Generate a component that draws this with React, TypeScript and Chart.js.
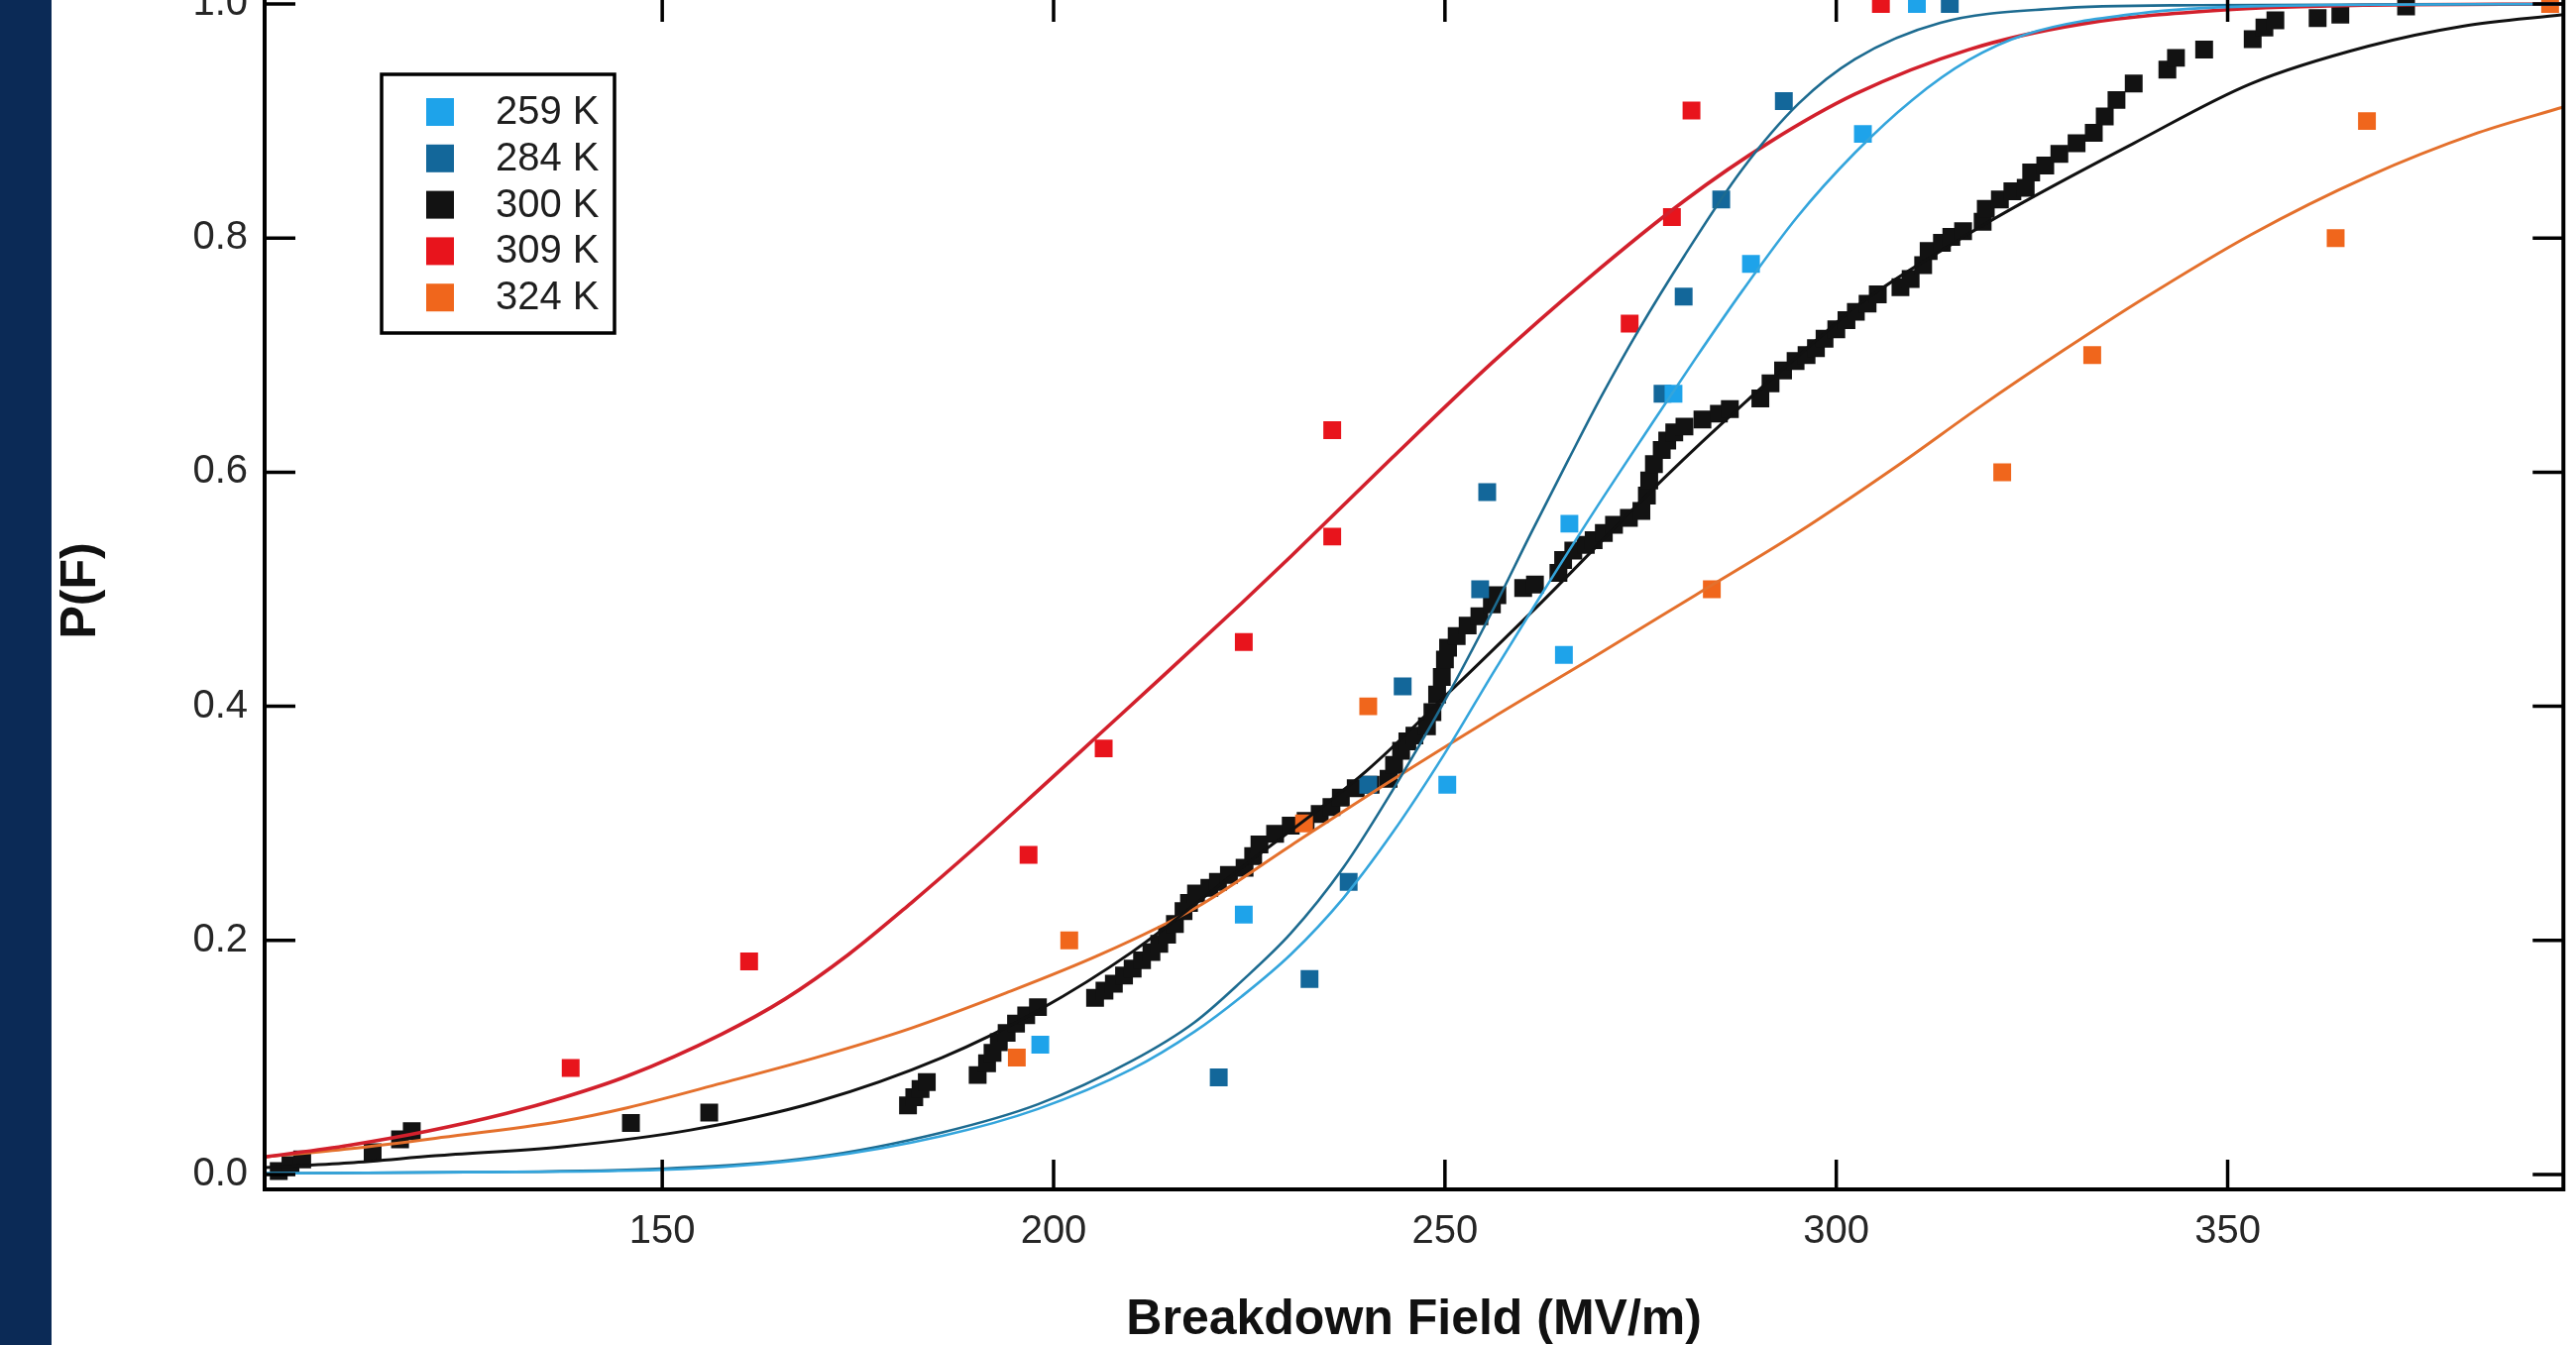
import React, { useEffect, useRef } from 'react';
import { Chart, registerables } from 'chart.js';

Chart.register(...registerables);

// ---------------- data ----------------
const seriesLabels = ['259 K', '284 K', '300 K', '309 K', '324 K'];
const markerColors = ['#1ea3ea', '#13679a', '#121212', '#e8141c', '#f0661c'];
const lineColors = ['#34a5dc', '#1d6b90', '#111111', '#d2202c', '#e4702c'];

const xTicks = [150, 200, 250, 300, 350];
const yTicks = [0, 0.2, 0.4, 0.6, 0.8, 1.0];

const points259: [number, number][] = [
  [198.3, 0.111], [224.3, 0.222], [250.3, 0.333], [265.2, 0.444], [265.9, 0.556],
  [279.2, 0.667], [289.1, 0.778], [303.4, 0.889], [310.3, 1.0],
];
const points284: [number, number][] = [
  [221.1, 0.083], [232.7, 0.167], [237.7, 0.25], [240.2, 0.333], [244.6, 0.417],
  [254.5, 0.5], [255.4, 0.583], [277.8, 0.667], [280.5, 0.75], [285.3, 0.833],
  [293.3, 0.917], [314.5, 1.0],
];
const points300: [number, number][] = [
  [101.0, 0.003], [102.5, 0.008], [104.0, 0.013], [113.0, 0.019], [116.5, 0.030], [118.0, 0.037],
  [146.0, 0.044], [156.0, 0.053],
  [181.4, 0.059], [182.2, 0.066], [183.0, 0.073], [183.8, 0.079],
  [190.3, 0.085], [191.5, 0.095], [192.2, 0.104], [193.0, 0.113], [194.0, 0.121], [195.2, 0.129],
  [196.5, 0.136], [198.0, 0.143],
  [205.3, 0.151], [206.5, 0.157], [207.7, 0.163], [209.0, 0.170], [210.1, 0.176], [211.3, 0.183],
  [212.5, 0.190], [213.5, 0.197], [214.5, 0.205], [215.5, 0.214], [216.6, 0.225], [217.3, 0.232],
  [218.2, 0.240], [219.9, 0.245], [221.0, 0.250], [222.4, 0.256], [224.4, 0.262], [225.5, 0.272],
  [226.3, 0.282], [228.3, 0.291], [230.3, 0.298], [232.2, 0.302], [234.0, 0.308], [235.5, 0.314],
  [236.7, 0.322], [238.6, 0.330], [240.5, 0.333], [242.8, 0.338], [243.5, 0.350], [244.4, 0.362],
  [245.2, 0.370], [246.1, 0.375], [247.7, 0.383], [248.4, 0.395], [249.0, 0.410], [249.6, 0.425],
  [250.0, 0.440], [250.4, 0.450], [251.5, 0.460], [252.9, 0.469], [254.4, 0.477], [256.0, 0.487],
  [256.7, 0.495], [260.0, 0.501], [261.5, 0.504], [264.5, 0.514], [265.1, 0.525], [266.4, 0.533],
  [268.0, 0.538], [269.0, 0.542], [270.3, 0.548], [271.6, 0.555], [273.5, 0.561], [275.1, 0.567],
  [275.8, 0.580], [276.1, 0.593], [276.7, 0.607], [277.7, 0.619], [278.4, 0.627], [279.3, 0.634],
  [280.6, 0.639], [282.9, 0.645], [285.0, 0.650], [286.4, 0.654], [290.3, 0.663], [291.6, 0.676],
  [293.2, 0.687], [294.8, 0.695], [296.2, 0.700], [297.4, 0.706], [298.5, 0.714], [300.0, 0.722],
  [301.3, 0.730], [302.5, 0.737], [304.0, 0.744], [305.3, 0.752], [308.2, 0.758], [309.5, 0.765],
  [311.1, 0.777], [311.8, 0.789], [313.5, 0.796], [314.7, 0.801], [316.2, 0.806], [318.7, 0.814],
  [319.1, 0.825], [320.9, 0.833], [322.5, 0.840], [324.2, 0.843], [324.9, 0.856], [326.7, 0.862],
  [328.5, 0.872], [330.7, 0.881], [332.9, 0.890], [334.3, 0.904], [335.8, 0.918], [338.0, 0.932],
  [342.3, 0.944], [343.4, 0.954], [347.0, 0.961], [353.2, 0.970], [354.7, 0.980], [356.1, 0.986],
  [361.5, 0.988], [364.4, 0.991], [372.8, 0.998],
];
const points309: [number, number][] = [
  [138.3, 0.091], [161.1, 0.182], [196.8, 0.273], [206.4, 0.364], [224.3, 0.455], [235.6, 0.545],
  [235.6, 0.636], [273.6, 0.727], [279.0, 0.818], [281.5, 0.909], [305.7, 1.0],
];
const points324: [number, number][] = [
  [195.3, 0.1], [202.0, 0.2], [232.0, 0.3], [240.2, 0.4], [284.1, 0.5], [321.2, 0.6],
  [332.7, 0.7], [363.8, 0.8], [367.8, 0.9], [391.2, 1.0],
];

// fitted curves
const fit259: [number, number][] = [
  [99.2, 0.001], [125, 0.002], [150, 0.004], [169.7, 0.014], [185.8, 0.033], [198, 0.056],
  [210, 0.09], [218, 0.122], [224, 0.152], [230.3, 0.188], [237, 0.236], [243.2, 0.291],
  [250, 0.36], [256.1, 0.428], [262, 0.492], [269, 0.566], [276, 0.637], [282, 0.697], [288, 0.755],
  [295, 0.818], [302.4, 0.873], [309.7, 0.918], [316.9, 0.952], [324.2, 0.974], [338.7, 0.992],
  [353, 0.998], [392.9, 1.0],
];
const fit284: [number, number][] = [
  [99.2, 0.001], [125, 0.002], [150, 0.005], [169.7, 0.015], [185.8, 0.036], [198, 0.06],
  [210, 0.097], [218, 0.13], [224, 0.165], [230.3, 0.206], [237, 0.262], [243.2, 0.327],
  [250, 0.405], [256.1, 0.482], [261, 0.548], [265.8, 0.611], [270, 0.665], [274.8, 0.722],
  [280.6, 0.785], [287.9, 0.858], [295.2, 0.915], [302.4, 0.953], [313.3, 0.984], [327.8, 0.996],
  [346, 0.999], [392.9, 1.0],
];
const fit300: [number, number][] = [
  [99.2, 0.006], [110, 0.01], [121, 0.016], [137.5, 0.024], [153.6, 0.038], [169.7, 0.062],
  [185.8, 0.1], [198, 0.14], [210, 0.19], [224, 0.262], [240, 0.345], [251, 0.415], [262.5, 0.49],
  [278, 0.595], [288.4, 0.66], [298, 0.716], [302.4, 0.741], [317, 0.804], [324, 0.831],
  [338, 0.881], [353, 0.932], [368, 0.964], [380, 0.981], [392.9, 0.991],
];
const fit309: [number, number][] = [
  [99.2, 0.015], [110, 0.025], [120, 0.037], [130, 0.052], [137.5, 0.066], [145.5, 0.084],
  [157.6, 0.12], [165.7, 0.15], [173.8, 0.188], [181.8, 0.232], [189.9, 0.279], [198, 0.328],
  [206, 0.377], [214, 0.426], [224, 0.488], [230.3, 0.528], [243.2, 0.612], [256.1, 0.694],
  [268, 0.764], [280.6, 0.832], [291.5, 0.882], [302.4, 0.923], [316.9, 0.961], [331.4, 0.983],
  [349.6, 0.995], [367.8, 0.999], [392.9, 1.0],
];
const fit324: [number, number][] = [
  [99.2, 0.015], [110, 0.022], [121, 0.031], [137.5, 0.046], [145.5, 0.057], [157.6, 0.078],
  [169.7, 0.1], [181.8, 0.125], [193.9, 0.155], [206, 0.188], [218.2, 0.228], [230.3, 0.281],
  [243, 0.336], [256, 0.39], [269, 0.442], [282, 0.495], [295, 0.548], [307.7, 0.605],
  [318.6, 0.657], [329, 0.704], [338.7, 0.746], [353, 0.803], [367.7, 0.852], [382, 0.89],
  [392.9, 0.912],
];

const pointSeries = [points259, points284, points300, points309, points324];
const fitSeries = [fit259, fit284, fit300, fit309, fit324];

// ---------------- styling ----------------
const FONT = '"Liberation Sans", Arial, Helvetica, sans-serif';
const BAND = '#0b2a56';
const PAGE_W = 2599;
const PAGE_H = 1357;
const TOP_HIDDEN = 60;
const lineWidths = [2.6, 2.6, 3, 3.6, 3];

const toXY = (arr: [number, number][]) => arr.map(([x, y]) => ({ x, y }));

const framePlugin = {
  id: 'frameAndLegend',
  beforeDraw(chart: any) {
    const { ctx, width, height } = chart;
    ctx.save();
    ctx.fillStyle = '#ffffff';
    ctx.fillRect(0, 0, width, height);
    ctx.fillStyle = BAND;
    ctx.fillRect(0, 0, 52, height);
    ctx.restore();
  },
  afterDraw(chart: any) {
    const { ctx, chartArea: a, scales } = chart;
    ctx.save();
    ctx.strokeStyle = '#000';
    ctx.lineWidth = 3.5;
    ctx.beginPath();
    for (const v of xTicks) {
      const px = scales.x.getPixelForValue(v);
      ctx.moveTo(px, a.bottom);
      ctx.lineTo(px, a.bottom - 30);
      ctx.moveTo(px, a.top);
      ctx.lineTo(px, a.top + 30);
    }
    for (const v of yTicks) {
      const py = scales.y.getPixelForValue(v);
      ctx.moveTo(a.left, py);
      ctx.lineTo(a.left + 31, py);
      ctx.moveTo(a.right, py);
      ctx.lineTo(a.right - 31, py);
    }
    ctx.stroke();
    ctx.lineWidth = 4;
    ctx.strokeRect(a.left, a.top, a.right - a.left, a.bottom - a.top);

    // legend box
    const bx = 385, by = 75 + TOP_HIDDEN, bw = 235, bh = 261;
    ctx.fillStyle = '#ffffff';
    ctx.fillRect(bx, by, bw, bh);
    ctx.lineWidth = 3.5;
    ctx.strokeRect(bx, by, bw, bh);
    ctx.font = `40px ${FONT}`;
    ctx.textBaseline = 'middle';
    ctx.textAlign = 'left';
    seriesLabels.forEach((lab, i) => {
      const cy = by + 38 + i * 46.8;
      ctx.fillStyle = markerColors[i];
      ctx.fillRect(430, cy - 14, 28, 28);
      ctx.fillStyle = '#1e1e1e';
      ctx.fillText(lab, 500, cy + 1);
    });
    ctx.restore();
  },
};

export default function App() {
  const ref = useRef<HTMLCanvasElement | null>(null);

  useEffect(() => {
    if (!ref.current) return;
    const datasets: any[] = [];
    pointSeries.forEach((pts, i) => {
      datasets.push({
        label: seriesLabels[i],
        data: toXY(pts),
        showLine: false,
        pointStyle: 'rect',
        pointRadius: 12.7,
        pointBorderWidth: 0,
        pointBackgroundColor: markerColors[i],
        borderColor: markerColors[i],
        backgroundColor: markerColors[i],
        order: i === 2 ? 3 : 2,
      });
    });
    fitSeries.forEach((pts, i) => {
      datasets.push({
        label: seriesLabels[i] + ' fit',
        data: toXY(pts),
        showLine: true,
        pointRadius: 0,
        borderWidth: lineWidths[i],
        borderColor: lineColors[i],
        backgroundColor: lineColors[i],
        cubicInterpolationMode: 'monotone',
        fill: false,
        order: 1,
      });
    });

    const chart = new Chart(ref.current, {
      type: 'scatter',
      data: { datasets },
      options: {
        responsive: false,
        animation: false,
        devicePixelRatio: 1,
        events: [],
        layout: { padding: { top: TOP_HIDDEN - 8, left: 0, right: PAGE_W - 2587, bottom: 0 } },
        plugins: { legend: { display: false }, tooltip: { enabled: false } },
        scales: {
          x: {
            type: 'linear',
            min: 99.2,
            max: 392.9,
            grid: { display: false, drawTicks: false },
            border: { display: false },
            afterBuildTicks: (s: any) => {
              s.ticks = xTicks.map((v) => ({ value: v }));
            },
            afterFit: (s: any) => {
              s.height = 157;
            },
            ticks: {
              padding: 19,
              color: '#262626',
              autoSkip: false,
              maxRotation: 0,
              font: { family: FONT, size: 40, lineHeight: 1.2 },
              callback: (v: any) => String(v),
            },
            title: {
              display: true,
              text: 'Breakdown Field (MV/m)',
              color: '#111111',
              font: { family: FONT, size: 50, weight: 'bold', lineHeight: 1 },
              padding: { top: 0, bottom: 0 },
            },
          },
          y: {
            type: 'linear',
            min: -0.0127,
            max: 1.0102,
            grid: { display: false, drawTicks: false },
            border: { display: false },
            afterBuildTicks: (s: any) => {
              s.ticks = yTicks.map((v) => ({ value: v }));
            },
            afterFit: (s: any) => {
              s.width = 267;
            },
            ticks: {
              padding: 17,
              color: '#262626',
              autoSkip: false,
              font: { family: FONT, size: 40, lineHeight: 1.2 },
              callback: (v: any) => Number(v).toFixed(1),
            },
            title: {
              display: true,
              text: 'P(F)',
              color: '#111111',
              font: { family: FONT, size: 50, weight: 'bold', lineHeight: 1 },
              padding: { top: 57, bottom: 0 },
            },
          },
        },
      },
      plugins: [framePlugin],
    } as any);
    return () => chart.destroy();
  }, []);

  return (
    <div
      style={{
        position: 'fixed',
        left: 0,
        top: 0,
        width: PAGE_W,
        height: PAGE_H,
        overflow: 'hidden',
        background: '#ffffff',
      }}
    >
      <canvas
        ref={ref}
        width={PAGE_W}
        height={PAGE_H + TOP_HIDDEN}
        style={{
          position: 'absolute',
          left: 0,
          top: -TOP_HIDDEN,
          width: PAGE_W,
          height: PAGE_H + TOP_HIDDEN,
        }}
      />
    </div>
  );
}
